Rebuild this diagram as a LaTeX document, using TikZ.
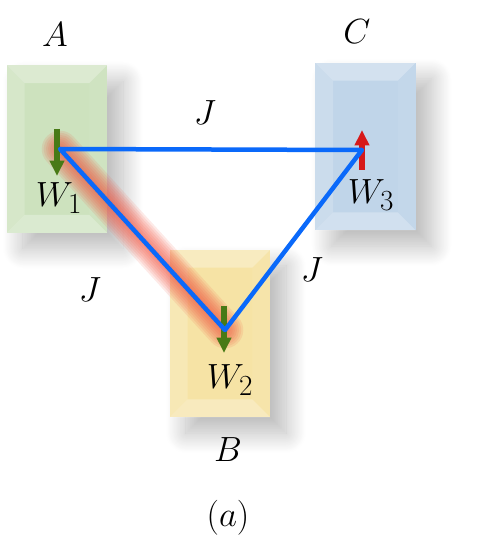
\documentclass[tikz,border=0pt]{standalone}
\usepackage{tikz}
\usetikzlibrary{arrows.meta, positioning, calc, shadows.blur}
\definecolor{bondblue}{RGB}{10,105,250}
\definecolor{cellgreen}{RGB}{205,226,190}
\definecolor{cellblue}{RGB}{192,213,233}
\definecolor{cellyellow}{RGB}{246,227,165}
\definecolor{spingreen}{RGB}{72,122,22}
\definecolor{spinred}{RGB}{215,25,25}
\definecolor{glowred}{RGB}{240,80,60}

% bevelled look of a cell
\newcommand{\bevel}[1]{%
  \fill[white, opacity=0.3] (#1.north west) -- (#1.north east) -- ([shift={(-18,-18)}]#1.north east) -- ([shift={(18,-18)}]#1.north west) -- cycle;
  \fill[white, opacity=0.18] (#1.north west) -- ([shift={(18,-18)}]#1.north west) -- ([shift={(18,18)}]#1.south west) -- (#1.south west) -- cycle;
  \fill[white, opacity=0.28] (#1.south west) -- ([shift={(18,18)}]#1.south west) -- ([shift={(-18,18)}]#1.south east) -- (#1.south east) -- cycle;
  \fill[white, opacity=0.06] (#1.north east) -- ([shift={(-18,-18)}]#1.north east) -- ([shift={(-18,18)}]#1.south east) -- (#1.south east) -- cycle;
}

\begin{document}
\begin{tikzpicture}[x=0.025cm, y=0.025cm,
  cell/.style={minimum width=2.5cm, minimum height=4.175cm, inner sep=0pt, draw=none,
    blur shadow={shadow xshift=0.4cm, shadow yshift=-0.4cm, shadow blur radius=0.5cm,
      shadow blur steps=30, shadow opacity=28}},
  bond/.style={bondblue, line width=3.2pt, line join=round},
  spindn/.style={spingreen, line width=3.8pt, -{Triangle[width=10pt,length=11pt]}},
  spinup/.style={spinred, line width=3.8pt, -{Triangle[width=10pt,length=11pt]}},
  lbl/.style={font=\Huge, inner sep=1pt}]
  \useasboundingbox (0,0) rectangle (476,555);

  % Cells
  \node[cell, fill=cellgreen] (cellA) at (57,406) {};
  \node[cell, fill=cellblue] (cellC) at (365.5,408.5) {};
  \node[cell, fill=cellyellow] (cellB) at (220,221.5) {};
  \bevel{cellA}
  \bevel{cellC}
  \bevel{cellB}

  % Sites
  \coordinate (vA) at (60,406);
  \coordinate (vC) at (362,405);
  \coordinate (vB) at (225,225);

  % Frustrated bond
  \foreach \w in {26,23,...,5}
    \draw[glowred, line width=\w pt, line cap=round, opacity=0.12] (vA) -- (vB);

  % Spins
  \draw[spindn] ([shift={(-3,20)}]vA) -- ([shift={(-3,-27)}]vA);
  \draw[spindn] ([shift={(-1,24)}]vB) -- ([shift={(-1,-23)}]vB);
  \draw[spinup] ([shift={(0,-20)}]vC) -- ([shift={(0,20)}]vC);

  % Bonds
  \draw[bond] (vA) -- (vC) -- (vB) -- cycle;

  % Labels
  \node[lbl] (labA) at (55,520) {$A$};
  \node[lbl] (labC) at (357,523) {$C$};
  \node[lbl] (labB) at (228,105) {$B$};
  \node[lbl] (labW1) at (59,357) {$W_1$};
  \node[lbl] (labW3) at (371,360) {$W_3$};
  \node[lbl] (labW2) at (230,175) {$W_2$};
  \node[lbl] (labJAC) at (205,442) {$J$};
  \node[lbl] (labJAB) at (90,265) {$J$};
  \node[lbl] (labJBC) at (312,285) {$J$};
  \node[lbl] (caption) at (228,37) {$(a)$};
\end{tikzpicture}
\end{document}
